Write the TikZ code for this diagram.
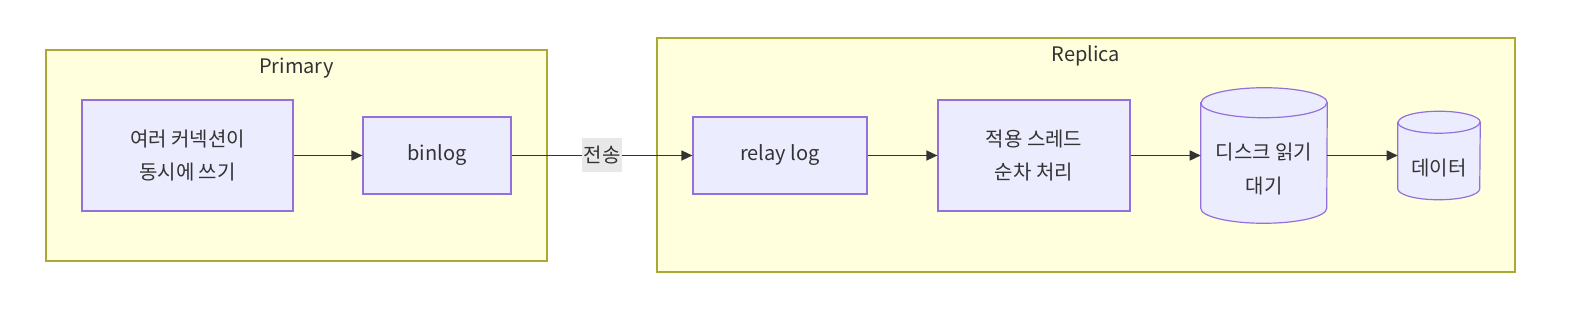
\documentclass[tikz,border=0pt]{standalone}
\usepackage{fontspec}
\setmainfont{Noto Sans CJK KR}
\usetikzlibrary{arrows.meta,calc}
\definecolor{clfill}{HTML}{FFFFDE}
\definecolor{cldraw}{HTML}{AAAA33}
\definecolor{ndfill}{HTML}{ECECFF}
\definecolor{nddraw}{HTML}{9370DB}
\definecolor{txt}{HTML}{333333}
\definecolor{lblbg}{HTML}{E8E8E8}
\pgfdeclarelayer{bg}
\pgfdeclarelayer{mid}
\pgfsetlayers{bg,mid,main}
\begin{document}
\begin{tikzpicture}[x=0.75pt,y=0.75pt,
  font=\fontsize{15}{25}\selectfont, text=txt,
  cluster/.style={draw=cldraw, fill=clfill, line width=0.9pt},
  box/.style={draw=nddraw, fill=ndfill, line width=0.9pt, align=center, inner sep=0pt},
  cylnode/.style={draw=none, fill=none, inner sep=0pt},
  cyltext/.style={align=center, inner sep=0pt},
  cyl/.style={draw=nddraw, fill=ndfill, line width=0.9pt},
  arr/.style={draw=txt, line width=1.1pt, -{Triangle[length=8.25pt,width=7.5pt]}},
  lbl/.style={fill=lblbg, inner xsep=1pt, inner ysep=0pt, minimum height=25.5pt}]
\useasboundingbox (0,0) rectangle (1572,-324);
% clusters
\begin{pgfonlayer}{bg}
\draw[cluster] (46,-50) rectangle (547,-261);
\draw[cluster] (657,-38) rectangle (1515,-272);
\end{pgfonlayer}
\node (tp) at (296.5,-68) {Primary};
\node (tr) at (1086,-56) {Replica};
% nodes
\node[box, minimum width=158.25pt, minimum height=83.25pt] (a) at (187.5,-155.5) {여러 커넥션이\\동시에 쓰기};
\node[box, minimum width=111pt, minimum height=57.75pt] (b) at (437,-155.5) {binlog};
\node[box, minimum width=130.5pt, minimum height=57.75pt] (r) at (780,-155.5) {relay log};
\node[box, minimum width=144pt, minimum height=83.25pt] (s) at (1034,-155.5) {적용 스레드\\순차 처리};
\node[cylnode, minimum width=94.5pt, minimum height=101.25pt] (d) at (1264,-155.5) {};
\node[cylnode, minimum width=61.5pt, minimum height=66pt] (e) at (1439,-155.5) {};
\node[cyltext] (dt) at (1264,-169) {디스크 읽기\\대기};
\node[cyltext] (et) at (1439,-168) {데이터};
% cylinders
\begin{pgfonlayer}{mid}
\draw[cyl] ($(d.north west)+(0,-15)$) -- ($(d.south west)+(0,15)$)
  arc[start angle=180,end angle=360,x radius=63,y radius=15]
  -- ($(d.north east)+(0,-15)$)
  arc[start angle=0,end angle=180,x radius=63,y radius=15] -- cycle;
\draw[cyl, fill=none] ($(d.north west)+(0,-15)$) arc[start angle=180,end angle=360,x radius=63,y radius=15];
\draw[cyl] ($(e.north west)+(0,-11)$) -- ($(e.south west)+(0,11)$)
  arc[start angle=180,end angle=360,x radius=41,y radius=11]
  -- ($(e.north east)+(0,-11)$)
  arc[start angle=0,end angle=180,x radius=41,y radius=11] -- cycle;
\draw[cyl, fill=none] ($(e.north west)+(0,-11)$) arc[start angle=180,end angle=360,x radius=41,y radius=11];
\end{pgfonlayer}
% edges
\draw[arr] (a.east) -- (b.west);
\draw[arr] (b.east) -- node[lbl] (l) {전송} (r.west);
\draw[arr] (r.east) -- (s.west);
\draw[arr] (s.east) -- (d.west);
\draw[arr] (d.east) -- (e.west);
\end{tikzpicture}
\end{document}
